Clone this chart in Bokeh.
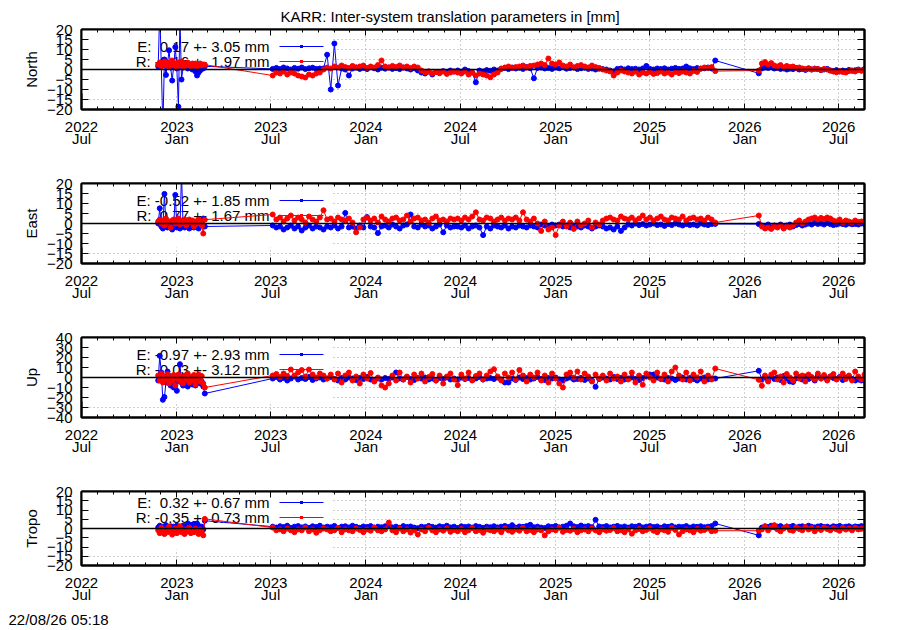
import numpy as np
import pandas as pd
from bokeh.plotting import figure
from bokeh.layouts import column
from bokeh.models import (FixedTicker, SingleIntervalTicker, DatetimeTickFormatter, LinearAxis,
                          DatetimeAxis, Span, Label, BoxAnnotation, Range1d, ColumnDataSource, Title)
from bokeh.embed import file_html
from bokeh.resources import INLINE

TITLE = "KARR: Inter-system translation parameters in [mm]"
STAMP = "22/08/26 05:18"
PANELS = ["North", "East", "Up", "Tropo"]
YLIMS = [20, 20, 40, 20]
YSTEPS = [5, 5, 10, 5]
E_MEAN = [0.17, -0.52, -0.97, 0.32]
E_STD = [3.05, 1.85, 2.93, 0.67]
R_MEAN = [-0.16, 0.77, -0.03, -0.35]
R_STD = [1.97, 1.67, 3.12, 0.73]

# three observation periods: start date and sampling step in days
SEG_START = ["2022-11-26", "2023-07-05", "2026-01-28"]
SEG_STEP = [3, 7, 6]

# ---------------- North ----------------
NE_A = [1.5, 30, 2.0, -30, 5.0, -2.7, 3.0, 9.6, 1.0, -5.5, 2.0, 11.2, 0.5, -18.6, 25, -5.0, 1.0, 2.5, 1.5, 0.5,
        2.0, 1.0, 0.0, 1.5, -1.0, -3.0, -1.5, -0.5, 1.0, 0.5, 1.6]
NE_B = [0.3, 0.8, 0.2, 1.0, 0.5, 0.0, 0.8, 0.4, 1.0, 0.2, 0.6, 0.9, 0.3, 0.5,
        0.5, 7.4, -10.0, 13.0, -8.0, 0.5, 0.0, -3.0,
        0.5, 1.0, 0.3, 0.8, 0.2, 1.2, 0.6, 0.0, 0.9, 0.4, 1.0, 0.3, 0.7, 0.2, 1.0, 0.5, 0.0, 0.6, -0.5,
        -1.5, -2.0, -1.0, -2.5, -1.2, -1.8, -0.8, -1.5, -0.5, -1.0,
        -0.5, -1.2, 0.0, -0.8, -1.5, -6.4, -0.5, -1.0, -0.3, -0.6, 0.0, -0.5,
        0.3, 0.8, 0.2, 1.0, 0.5, 0.9, 0.3, 1.2, 0.6, -4.4, 0.8, 1.0, 0.5,
        0.8, 0.3, 1.0, 0.6, 1.2, 0.4, 0.8, 1.0, 0.2, 0.6, 0.9, 0.3, 0.5, 0.0, 0.4,
        0.2, 0.0, -0.5, -1.0, 0.3, 0.5, 0.0, 0.6, 0.2, 0.4, 0.0, 0.5, 1.8, 0.3, 0.0, 0.5, 0.2, 0.6, 0.0, 0.4,
        0.8, 0.3, 0.5, 1.5, 0.6, 0.2, 0.7, 0.4,
        0.6, 1.0, 0.5, 4.5]
NE_C = [-1.9, 0.5, 1.0, 0.8, 1.2, 0.5, 0.8, 0.3, 0.5, 0.0, 0.4, 0.2, 0.6, 0.0, 0.3, -0.2, 0.5, 0.0, 0.4, 0.2,
        -0.3, 0.0, 0.3, -0.5, -0.8, -0.3, -1.0, -0.5, -0.8, -0.2, -0.6, -0.4, 0.0, -0.5, 0.2]
NR_A = [2.5, 3.5, 1.5, 3.0, 4.0, 2.0, 3.5, 1.5, 2.5, 4.5, 2.0, 3.0, 1.0, 3.5, 2.5, 4.0, 1.5, 3.0, 2.0, 3.5,
        2.5, 1.5, 3.0, 2.0, 3.0, 1.5, 2.5, 3.0, 2.0, 2.5, 2.4]
NR_B = [-3.0, -1.5, -2.0, -1.0, -2.5, -1.5, -2.0, -3.0, -3.5, -4.0, -2.5, -3.0, -2.0, -1.5,
        0.0, 1.0, 0.5, 1.5, 1.0, 2.0, 1.2, 0.8, 1.8, 1.0, 1.5, 2.0, 0.8, 1.5, 1.0, 2.2, 4.5, 1.5, 1.0, 1.8,
        1.2, 2.0, 1.0, 1.5, 0.8, 1.5, 1.0,
        -0.5, -1.5, -1.0, -2.0, -1.2, -1.8, -1.0, -2.2, -1.5, -1.0,
        -1.5, -2.0, -1.0, -2.5, -1.5, -3.0, -2.0, -2.5, -3.0, -3.9, -2.5, -1.5,
        0.5, 1.0, 1.5, 0.8, 1.2, 1.5, 2.0, 1.0, 1.8,
        2.0, 2.5, 3.0, 2.2, 5.5, 3.0, 2.5, 3.5,
        2.0, 1.5, 2.5, 1.0, 1.8, 2.2, 1.5, 1.0, 2.0, 1.2, 0.8,
        0.0, -0.5, -1.0, -3.0, -1.5, -0.5, -1.0,
        -1.5, -2.0, -1.0, -2.5, -1.5, -2.0, -1.2, -2.2, -1.8, -1.0, -2.0, -1.5, -2.5, -1.2, -1.8, -1.0,
        -1.5, -2.0, -0.8, -1.2,
        0.5, 1.0, 0.8, 1.2, -0.8]
NR_C = [-0.5, 3.0, 3.7, 2.5, 3.2, 2.0, 1.5, 2.2, 1.0, 1.8, 1.2, 1.5, 0.8, 1.0, 0.5, 0.2, 0.6, 0.0, 0.4, 0.2,
        -0.2, 0.3, 0.0, -0.5, -1.0, -1.4, -0.8, -1.2, -1.5, -0.8, -0.5, -1.0, -0.3, -0.6, -0.2]

# ---------------- East ----------------
EE_A = [0.0, 7.6, -1.5, -2.5, 14.8, -1.0, -2.0, 0.5, -1.5, -3.0, -0.5, 14.3, -2.0, -1.0, -2.5, 25.0, -1.0,
        -2.0, 0.0, -1.5, -2.5, -0.5, -1.0, -2.0, 0.5, -1.5, -2.5, -1.0, 1.0, 2.5, -1.5]
EE_B = [-1.0, -2.0, -1.5, -3.0, -2.0, -1.0, -2.5, -1.5, -3.5, -2.0, -1.0, -2.5, -1.5, -2.0, -3.0, -1.5, -2.0,
        -1.0, -2.5, -1.5, 5.3,
        -2.0, -1.5, -2.5, -1.0, -2.0, 3.2, -1.5, -2.0, -4.8, -1.5,
        -1.0, -2.0, -0.5, -1.5, -2.5, -1.0, -0.5, 4.5, -1.5, -2.0, -0.5, -1.5, -1.0, -2.5, -1.5, -0.5, -4.4,
        -1.0, -2.0, -1.5,
        -1.5, -2.0, -1.0, -2.5, -1.5, -1.0, -2.0, -5.8, -1.5, -2.5, -1.0, -1.5, -2.0, -1.0, -2.5, -1.5, -2.0,
        -1.0, -1.5, -2.0,
        -1.0, -1.5, -2.0, -0.5, -1.0, -1.5, -0.5, -1.0, -0.5, -1.5, -1.0, -2.0, -1.0, -1.5, -2.0, -1.0, -1.5,
        -2.5, -1.5, -1.0,
        -1.5, -2.5, -2.0, -3.0, -1.5, -3.7, -2.0,
        -0.5, -1.0, 0.0, -0.8, -0.3, -1.0, -0.5, 0.0, -0.8, -0.5, -1.2, -0.3, -0.8, 0.0, -0.5, -1.0, -0.3,
        -0.8, -0.5, -1.0, 0.0, -0.5, -0.8, -0.3, -0.2]
EE_C = [-0.3, -1.0, -1.5, -0.5, -2.0, -1.0, -1.5, -0.5, -1.8, -1.0, -0.5, -1.5, -0.8, -0.3, -1.0, -0.5, 0.0,
        -0.5, 0.3, -0.2, 0.0, -0.5, 0.2, -0.3, -0.8, -0.5, 0.0, -0.3, -0.6, 0.0, -0.4, -0.2, -0.5, 0.0, -0.3]
ER_A = [1.0, 2.0, 0.0, 1.5, -1.0, 2.5, 0.5, 1.0, -2.0, 1.5, 2.0, 0.0, 1.0, 2.5, -0.5, 1.5, 0.5, 2.0, -1.0,
        1.0, 2.0, 0.5, 1.5, -1.5, 1.0, 0.0, 2.0, 1.0, -1.0, -5.0, 1.9]
ER_B = [4.5, 2.0, 3.0, 1.0, 2.5, 4.0, 1.5, 3.0, 2.0, 0.5, 3.5, 2.0, 1.0, 3.0, 6.6, 2.0,
        2.5, 1.0, 3.0, 2.0, 1.5, 2.5, 0.5, -4.4, -2.0,
        2.0, 3.0, 1.5, 2.5, 0.5, 3.5, 2.0, 1.0, 2.5, 3.0, 1.5, 2.0, 4.0, 1.0, 2.5, 3.0, 1.5, 2.0, 0.5, 2.5,
        3.5, 1.5, 2.0, 1.0, 2.5, 2.0,
        2.5, 1.5, 3.0, 2.0, 3.5, 5.6, 2.0, 1.5, 3.0, 2.5, 1.0, 2.0, 3.0, 1.5, 2.5, 2.0, 3.0, 1.5, 5.6,
        2.0, 1.0, 2.5, 0.0, -3.7, 1.0, -3.0, -2.0, -5.8, -1.0,
        1.0, -1.5, 0.5, -2.7, 1.0, -1.0, 0.0, 1.5, -2.0, 0.5, -0.5,
        1.5, 2.5, 3.0, 2.0, 1.5, 3.5, 2.5, 2.0, 3.0, 1.5, 2.5, 4.0, 2.0, 3.0, 1.5, 2.5, 3.5, 2.0, 1.5, 3.0,
        2.5, 2.0, 3.5, 1.5, 2.5, 3.0, 2.0, 2.5, 1.5, 3.0, 2.0, 0.5]
ER_C = [4.0, -1.5, -2.5, -2.0, -2.7, -1.5, -2.0, -1.0, -2.5, -1.5, -2.0, -1.0, 0.5, 1.5, 0.0, 1.0, 2.0, 2.5,
        3.0, 2.0, 2.8, 2.2, 3.0, 2.5, 1.5, 1.0, 2.0, 0.5, 1.5, 1.0, 0.5, 1.5, 0.8, 1.0, 1.2]

# ---------------- Up ----------------
UE_A = [-3.0, 21.7, 5.0, -22.3, -19.5, -5.0, 6.0, -2.0, -8.0, -4.0, -10.0, -6.0, -13.3, -3.0, 13.3, -5.0,
        -8.0, -3.0, -6.0, -9.0, -2.0, -5.0, -7.0, -3.0, -8.0, -5.0, -2.0, -6.0, -4.0, -9.0, -16.0]
UE_B = [-1.0, 0.5, -2.0, -0.5, -3.0, -1.0, 1.0, -2.0, -0.5, -1.5, 0.5, -2.5, -1.0, 0.0, -2.0, -1.0, 0.5,
        -1.5, -3.0, -0.5, -2.0, 0.0, -1.0, -2.5, -0.5, -1.5, 0.5, -2.0, -3.0, -1.0, -2.0, -0.5, -1.5, 0.0,
        5.0, -1.0, -2.0, 0.5, -1.5, -2.5, -0.5, -1.0, 0.0, -2.0, -1.0, -3.0, -0.5, -1.5, 0.0, -2.0,
        -1.0, -2.0, 0.0, -1.5, -0.5, -2.5, -1.0, 0.5, -2.0, -1.0, -0.5,
        -1.5, 0.0, -2.0, -5.0, -5.0, -1.0, -2.5, 0.0, -1.5, -0.5,
        -2.0, -1.0, 0.5, -1.5, -2.5, -0.5, -1.0, 0.0, -2.0, -3.0,
        -1.0, 0.0, -2.0, -1.5, -0.5, -2.5, -1.0, -3.0, -9.3, -1.5,
        0.0, -1.0, -2.0, 0.5, -1.5, -0.5, -2.0, -1.0, 0.0, -1.5,
        -2.5, -0.5, 1.0, 3.0, 3.0, 0.0, -1.5, -2.0, -0.5, -1.0,
        -2.5, -1.0, 0.0, -2.0, -0.5, -1.5, -3.0, -1.0, 0.0, -2.0, -1.0, -1.0]
UE_C = [6.7, -2.0, 0.5, -3.0, 1.0, -1.5, 0.0, -2.5, 1.5, -1.0, -4.0, -4.5, -1.0, 0.5, -2.0, 1.0, -1.5, 0.0,
        -3.0, 1.5, -1.0, 0.5, -2.0, 1.0, -0.5, -1.5, 0.5, -2.5, 0.0, 1.0, -1.5, -3.0, -2.0, -3.0, -3.0]
UR_A = [2.0, -3.0, 4.0, -5.0, 1.0, -2.0, 3.5, -6.0, 0.0, -3.0, 2.5, -8.0, -1.0, 3.0, -4.0, 1.0, -6.0, 2.0,
        -2.0, 4.0, -5.0, 0.5, -3.0, 2.5, -7.0, -1.0, 3.0, -4.0, 1.5, -6.0, -10.0]
UR_B = [2.0, 3.5, 0.5, 4.0, 1.5, 8.0, 2.0, 5.0, 7.5, 1.0, 8.0, 3.0, 0.0, 4.0, 2.0, -1.0, 3.0,
        -2.0, 4.0, -5.0, 2.0, 5.0, -3.0, 1.0, -6.0, 3.0, -1.0, 4.5, -4.0, 0.0, -8.0, -10.0, -6.0, 2.0, -3.0,
        5.0, -2.0, 1.0, -5.0, 3.0, -1.0, 4.0, -4.0, 0.5, 3.5, -3.0, 2.0, -6.0, 1.0, 4.0,
        -2.0, -7.7, 3.0, -1.0, 5.0, -3.0, 1.5, 4.0, -2.0, 2.0, 6.0,
        8.3, 1.0, -3.0, 4.0, 0.0, 5.0, -2.0, 7.5, 2.0, -4.0,
        3.0, 0.0, 5.0, -3.0, 2.0, -5.0, 4.0, -1.0, -6.0, -10.0,
        3.0, 5.0, 0.0, 6.0, -2.0, 4.0, 1.0, -4.0, 3.0, -1.0,
        2.0, -3.0, 4.0, -1.0, 1.0, -4.0, 3.0, -2.0, 5.0, -5.0,
        2.0, -7.3, 4.0, 0.0, -3.0, 5.0, -1.0, 3.0, -4.0, 6.0,
        10.0, 2.0, -2.0, 5.0, -3.0, 3.0, 0.0, 6.0, -4.0, 2.0, -2.0, 9.0]
UR_C = [-2.3, -8.3, 2.0, -4.0, 3.0, 5.0, -2.0, 1.0, -5.0, 3.5, 0.0, -3.0, 4.0, -1.0, 2.0, -4.0, 3.0, 0.5,
        -2.0, 4.0, -1.0, 2.5, -3.0, 1.0, 3.5, -2.0, 0.0, 4.0, -1.5, 2.0, -3.0, 6.0, 1.0, -2.0, 3.0]

# ---------------- Tropo ----------------
TE_A = [0.5, 1.5, -0.5, 1.0, 0.0, 1.8, -1.0, 0.5, 1.2, -0.5, 1.0, 0.0, 1.5, -1.0, 0.8, 0.2, 1.5, -0.5, 1.0,
        2.7, 0.5, 2.0, 1.0, 2.5, 0.0, 2.7, 1.5, 0.5, 1.0, -0.5, 4.2]
TE_B = [1.0, 0.5, 1.2, 0.8, 1.5, 0.3, 1.0, 1.3, 0.6, 1.1, 0.4, 1.2, 0.8, 1.5, 0.5, 1.0, 0.7, 1.4, 0.3, 1.0,
        1.2, 0.6, 1.5, 0.9, 0.4, 1.1, 0.8, 1.3, 0.5, 1.0, 0.7,
        1.2, 1.8, 0.6, 1.0, 0.4, 1.3, 0.8, 1.1, 0.5, 0.2, 1.0, 0.7, 1.4, 0.9, 0.5, 1.2, 0.8, 1.5, 0.6, 1.0,
        0.3, 1.2, 0.8, 1.1, 0.5, 1.3, 0.9, 0.4, 1.0, 0.7,
        1.2, 0.6, 1.0, 1.4, 0.8, 1.8, 0.5, 1.1, 0.9, 1.3, 2.0, 0.7, 1.0, 0.5, 0.3, 1.2, 0.8, 1.4, 0.6, 1.0,
        1.5, 2.7, 1.2, 0.8, 1.6, 1.0, 1.3, 0.7, 4.7, 1.1,
        0.8, 1.3, 0.6, 1.0, 1.4, 0.7, 1.1, 0.5, 1.2, 0.9, 1.5, 0.6, 1.0, 1.3, 0.8, 1.1, 0.4, 1.2, 0.9, 1.4,
        0.6, 1.0, 0.8, 1.3, 0.5, 1.1, 0.9, 1.2, 0.7, 1.0, 1.3, 2.7]
TE_C = [-3.7, 0.5, 1.2, 0.8, 1.5, 0.6, 1.0, 1.3, 0.4, 1.1, 0.8, 1.4, 0.5, 1.0, 1.2, 0.7, 1.5, 0.9, 0.6, 1.1,
        1.3, 0.8, 1.0, 0.5, 1.2, 0.9, 1.4, 0.7, 1.0, 1.2, 0.6, 1.1, 0.9, 1.3, 0.8]
TR_A = [-1.0, -2.5, 0.5, -1.5, -3.0, -0.5, -2.0, 1.0, -1.5, -3.3, -1.0, 0.0, -2.5, -1.5, 1.2, -2.0, -1.0,
        -3.0, -0.5, -1.5, 0.5, -2.5, -1.0, -2.0, 0.0, -1.5, -3.0, -0.5, -2.0, -3.7, 5.2]
TR_B = [0.5, -1.0, -0.5, -1.5, 0.0, -1.0, -2.0, -0.5, -1.0, 0.5, -1.5, -0.5, -2.3, -1.0, 0.0, -0.5, -1.5,
        -1.0, 0.3, -2.0, -0.5, -1.0, -1.5, 0.0, -0.8, -2.0, -0.5, -1.2, 0.5, -1.0, -1.5,
        -0.5, 3.2, -1.0, -2.0, 0.0, -1.5, -0.5, -2.2, -1.0, -3.2, -0.5, -1.5, 0.5, -1.0, -2.0, -0.5, -1.2,
        0.0, -1.8, -0.8, -1.5, -0.3, -2.0, -1.0, 0.2, -1.5, -0.8, -2.3, -0.5, -1.0,
        -1.5, -0.5, -2.0, 0.0, -1.0, -1.8, -0.5, -1.2, 0.3, -1.5, -0.8, -2.0, -0.5, -1.0, -3.7, -1.5, -0.5,
        -1.0, 0.5, -1.8, -0.8, -1.2, -0.3, -2.0, -1.0, -0.5, -1.5, 0.0, -1.0, -2.0,
        -0.5, -1.2, -0.8, 0.2, -1.5, -1.0, -2.0, -0.5, -2.8, -1.0, -0.3, -1.5, -0.8, 0.0, -1.2, -2.0, -0.5,
        -1.0, -1.8, 0.3, -0.8, -3.2, -1.5, -0.5, -1.0, -2.0, -0.3, -1.2, -0.8, 0.0, -1.5, -1.2]
TR_C = [-1.2, -0.5, 1.0, -1.0, 0.5, 1.8, -0.5, -1.5, 0.0, 1.0, -0.8, -1.2, 0.5, -0.3, -1.0, 0.8, -0.5, 0.2,
        -1.5, 0.0, -0.8, 0.5, -0.3, -1.0, 0.2, -0.5, -1.2, 0.3, -0.6, 0.0, -1.0, 0.4, -0.5, -0.2, 0.3]

E_SERIES = [(NE_A, NE_B, NE_C), (EE_A, EE_B, EE_C), (UE_A, UE_B, UE_C), (TE_A, TE_B, TE_C)]
R_SERIES = [(NR_A, NR_B, NR_C), (ER_A, ER_B, ER_C), (UR_A, UR_B, UR_C), (TR_A, TR_B, TR_C)]

FONT = "Liberation Sans"
FS = "15px"
BLUE = "#0000ff"
RED = "#ff0000"
GRID = "#a0a0a0"

X_START = pd.Timestamp("2022-07-01")
X_END = pd.Timestamp("2026-08-20")


def ms(t):
    return pd.Timestamp(t).value / 1e6


MAJOR = [ms(f"{y}-{m:02d}-01") for y in range(2022, 2027) for m in (1, 7)
         if X_START <= pd.Timestamp(f"{y}-{m:02d}-01") <= X_END]
MINOR = [ms(t) for t in pd.date_range(X_START, X_END, freq="MS")]


def series_xy(segs):
    xs, ys = [], []
    for start, step, vals in zip(SEG_START, SEG_STEP, segs):
        xs.append(pd.date_range(start, periods=len(vals), freq=f"{step}D"))
        ys.extend(vals)
    return np.concatenate([x.values for x in xs]), np.array(ys, dtype=float)


def key_text(tag, m, s):
    t = "%s: %5.2f +- %4.2f mm" % (tag, m, s)
    return t.replace(":  ", ":\u00a0 ")


W = 898
TOP = 29
FR_H = 80
HEIGHTS = [154, 154, 154, 168]
x_range = Range1d(start=X_START, end=X_END)
figs = []
for i, name in enumerate(PANELS):
    h = HEIGHTS[i]
    lim = YLIMS[i]
    p = figure(width=W, height=h, x_axis_type="datetime", x_range=x_range,
               y_range=Range1d(-lim, lim), output_backend="svg", toolbar_location=None,
               min_border_left=81, min_border_right=W - 864, min_border_top=TOP,
               min_border_bottom=h - TOP - FR_H)
    p.background_fill_color = "white"
    p.border_fill_color = "white"
    p.outline_line_color = "black"
    p.outline_line_width = 2

    xticker = FixedTicker(ticks=MAJOR, minor_ticks=MINOR)
    yticker = SingleIntervalTicker(interval=YSTEPS[i], num_minor_ticks=0)
    fmt = "%Y\n%b"
    xfmt = DatetimeTickFormatter(days=fmt, months=fmt, years=fmt)

    xa = p.xaxis[0]
    xa.ticker = xticker
    xa.formatter = xfmt
    ya = p.yaxis[0]
    ya.ticker = yticker
    ya.axis_label = name

    top = DatetimeAxis(ticker=xticker, formatter=DatetimeTickFormatter(months="%Y"),
                       major_label_text_font_size="1px", major_label_text_color=None,
                       major_label_standoff=0)
    right = LinearAxis(ticker=yticker, major_label_text_font_size="1px",
                       major_label_text_color=None, major_label_standoff=0)
    p.add_layout(top, "above")
    p.add_layout(right, "right")

    for ax in (xa, top):
        ax.major_tick_in = 6
        ax.major_tick_out = 0
        ax.minor_tick_in = 3
        ax.minor_tick_out = 0
        ax.minor_tick_line_color = "black"
    for ax in (ya, right):
        ax.major_tick_in = 7
        ax.major_tick_out = 0
        ax.minor_tick_line_color = None
    for ax in (xa, top, ya, right):
        ax.axis_line_color = "black"
        ax.axis_line_width = 2
        ax.major_tick_line_color = "black"
        ax.major_label_text_font = FONT
    for ax in (xa, ya):
        ax.major_label_text_color = "black"
        ax.major_label_text_font_size = FS
    xa.major_label_standoff = 8
    xa.major_label_text_line_height = 0.76
    ya.major_label_standoff = 9
    ya.axis_label_text_font = FONT
    ya.axis_label_text_font_size = FS
    ya.axis_label_text_font_style = "normal"
    ya.axis_label_text_color = "black"
    ya.axis_label_standoff = 4

    p.xgrid.ticker = FixedTicker(ticks=MAJOR)
    p.ygrid.ticker = yticker
    for g in (p.xgrid, p.ygrid):
        g.grid_line_color = GRID
        g.grid_line_dash = "1 3"
        g.grid_line_width = 1

    # opaque key area (hides the grid, not the data)
    p.add_layout(BoxAnnotation(left=0, right=251, top=FR_H, bottom=FR_H - 64,
                               left_units="screen", right_units="screen",
                               top_units="screen", bottom_units="screen",
                               fill_color="white", fill_alpha=1.0, line_color=None,
                               level="underlay"))

    # key texts and samples
    texts = [key_text("E", E_MEAN[i], E_STD[i]), key_text("R", R_MEAN[i], R_STD[i])]
    for row, (txt, col) in enumerate(zip(texts, (BLUE, RED))):
        yy = FR_H - 17 - 15 * row
        p.add_layout(Label(x=188, y=yy, x_units="screen", y_units="screen", text=txt,
                           text_align="right", text_baseline="middle", text_font=FONT,
                           text_font_size=FS, text_color="black", level="underlay"))
        p.add_layout(BoxAnnotation(left=198, right=242, top=yy + 0.5, bottom=yy - 0.5,
                                   left_units="screen", right_units="screen",
                                   top_units="screen", bottom_units="screen",
                                   fill_color=col, fill_alpha=1.0, line_color=None))
        p.add_layout(BoxAnnotation(left=218.5, right=221.5, top=yy + 1.5, bottom=yy - 1.5,
                                   left_units="screen", right_units="screen",
                                   top_units="screen", bottom_units="screen",
                                   fill_color=col, fill_alpha=1.0, line_color=None))

    for segs, col in ((E_SERIES[i], BLUE), (R_SERIES[i], RED)):
        xv, yv = series_xy(segs)
        src = ColumnDataSource(dict(x=xv, y=yv))
        p.line("x", "y", source=src, line_color=col, line_width=1)
        p.scatter("x", "y", source=src, marker="circle", size=5, fill_color=col, line_color=col)

    p.add_layout(Span(location=0, dimension="width", line_color="black", line_width=1.5))

    if i == 0:
        p.title.text = TITLE
        p.title.align = "left"
        p.title.offset = 199
        p.title.text_font = FONT
        p.title.text_font_size = FS
        p.title.text_font_style = "normal"
        p.title.text_color = "black"
        if "standoff" in p.title.properties():
            p.title.standoff = 9
    if i == 3:
        stamp = Title(text=STAMP, align="left", offset=-73, text_font=FONT, text_font_size=FS,
                      text_font_style="normal", text_color="black")
        if "standoff" in stamp.properties():
            stamp.standoff = 5
        p.add_layout(stamp, "below")
    figs.append(p)

layout = column(*figs, spacing=0)
open("out.html", "w").write(file_html(layout, INLINE))
